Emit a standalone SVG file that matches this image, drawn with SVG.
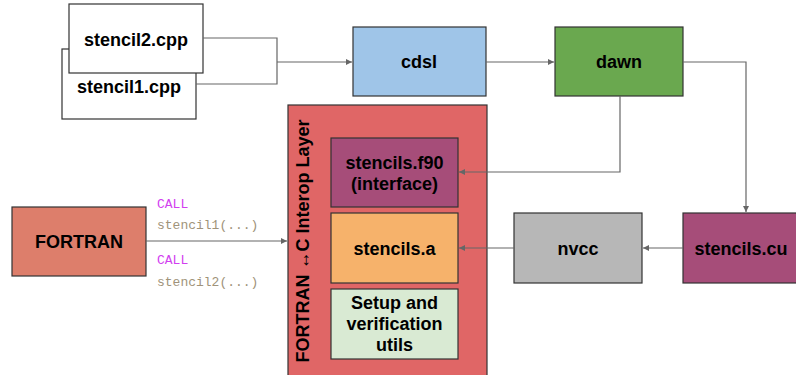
<svg xmlns="http://www.w3.org/2000/svg" width="796" height="375" viewBox="0 0 796 375">
<style>
.box{stroke:#333;stroke-width:1.2}
.lbl{font-family:"Liberation Sans",Arial,sans-serif;font-weight:bold;font-size:18px;fill:#000;text-anchor:middle;dominant-baseline:central}
.code{font-family:"Liberation Mono","Courier New",monospace;font-size:13px}
.kw{fill:#d23ef0}
.fn{fill:#a0937a}
.con{fill:none;stroke:#666;stroke-width:1.2}
</style>
<defs>
<marker id="ah" markerWidth="8" markerHeight="8" refX="6" refY="3" orient="auto" markerUnits="userSpaceOnUse">
<path d="M0,0 L6,3 L0,6 z" fill="#666"/>
</marker>
</defs>
<rect width="796" height="375" fill="#fff"/>

<g id="stencil1">
<rect class="box" x="62" y="49" width="134" height="70" fill="#fff"/>
<text class="lbl" x="129" y="87">stencil1.cpp</text>
</g>
<g id="stencil2">
<rect class="box" x="69" y="4" width="134" height="69" fill="#fff"/>
<text class="lbl" x="136" y="40">stencil2.cpp</text>
</g>
<g id="cdsl">
<rect class="box" x="353" y="27" width="133" height="69" fill="#9fc5e8"/>
<text class="lbl" x="419" y="62">cdsl</text>
</g>
<g id="dawn">
<rect class="box" x="555" y="27" width="128" height="69" fill="#6aa84f"/>
<text class="lbl" x="619" y="62">dawn</text>
</g>
<g id="interop">
<rect class="box" x="288" y="105" width="199" height="280" fill="#e06666"/>
<text class="lbl" transform="translate(303,241) rotate(-90)">FORTRAN ↔C Interop Layer</text>
</g>
<g id="f90">
<rect class="box" x="331" y="138" width="127" height="69" fill="#a64d79"/>
<text class="lbl" x="394.5" y="163">stencils.f90</text>
<text class="lbl" x="394.5" y="184">(interface)</text>
</g>
<g id="stencils-a">
<rect class="box" x="331" y="213" width="127" height="70" fill="#f6b26b"/>
<text class="lbl" x="394.5" y="249">stencils.a</text>
</g>
<g id="setup">
<rect class="box" x="331" y="289" width="127" height="70" fill="#d9ead3"/>
<text class="lbl" x="394.5" y="303">Setup and</text>
<text class="lbl" x="394.5" y="324">verification</text>
<text class="lbl" x="394.5" y="345">utils</text>
</g>
<g id="nvcc">
<rect class="box" x="514" y="213" width="128" height="70" fill="#b7b7b7"/>
<text class="lbl" x="578" y="249">nvcc</text>
</g>
<g id="stencils-cu">
<rect class="box" x="683" y="213" width="120" height="70" fill="#a64d79"/>
<text class="lbl" x="741" y="249">stencils.cu</text>
</g>
<g id="fortran">
<rect class="box" x="12" y="207" width="134" height="69" fill="#dd7e6b"/>
<text class="lbl" x="79" y="242">FORTRAN</text>
</g>

<g id="calls" class="code">
<text class="kw" x="157" y="208">CALL</text>
<text class="fn" x="157" y="229">stencil1(...)</text>
<text class="kw" x="157" y="264">CALL</text>
<text class="fn" x="157" y="286">stencil2(...)</text>
</g>

<g id="connectors">
<path class="con" d="M203,38 H277 V61"/>
<path class="con" d="M196,84 H277 V61"/>
<path class="con" d="M277,62 H352" marker-end="url(#ah)"/>
<path class="con" d="M486,62 H554" marker-end="url(#ah)"/>
<path class="con" d="M683,62 H746 V212" marker-end="url(#ah)"/>
<path class="con" d="M620,96 V172 H459" marker-end="url(#ah)"/>
<path class="con" d="M683,248 H643" marker-end="url(#ah)"/>
<path class="con" d="M514,248 H459" marker-end="url(#ah)"/>
<path class="con" d="M146,241 H287" marker-end="url(#ah)"/>
</g>
</svg>
